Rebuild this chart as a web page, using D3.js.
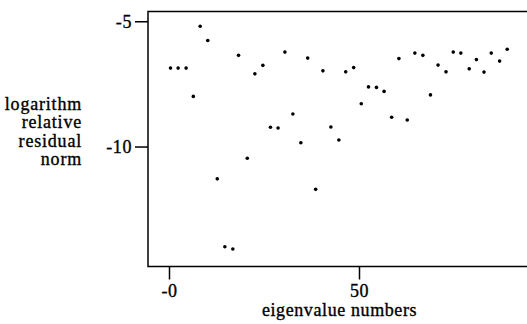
<!DOCTYPE html>
<html>
<head>
<meta charset="utf-8">
<script src="https://cdn.jsdelivr.net/npm/d3@7"></script>
<style>
  html, body { margin: 0; padding: 0; background: #fff; }
  svg { display: block; }
  svg text { font-family: 'Liberation Serif', 'Tinos', 'DejaVu Serif', serif !important; fill: #000; stroke: #000; stroke-width: 0.35px; }
</style>
</head>
<body>
<svg id="chart" width="527" height="324"></svg>
<script>
// Eigenvalue numbers (x) and logarithm of relative residual norm (y)
const eigenvalueNumbers = [
  0.4, 2.4, 4.5, 6.4, 8.2, 10.2, 12.7, 14.7, 16.8, 18.3,
  20.6, 22.6, 24.7, 26.7, 28.7, 30.5, 32.6, 34.7, 36.5, 38.6,
  40.5, 42.6, 44.7, 46.5, 48.6, 50.6, 52.5, 54.6, 56.6, 58.6,
  60.5, 62.7, 64.7, 66.8, 68.8, 70.8, 72.9, 74.8, 76.8, 79.0,
  80.9, 82.9, 84.8, 87.0, 89.0
];
const logResidualNorm = [
  -6.87, -6.87, -6.87, -8.00, -5.20, -5.77, -11.29, -14.00, -14.09, -6.36,
  -10.47, -7.10, -6.76, -9.23, -9.26, -6.23, -8.70, -9.85, -6.47, -11.71,
  -6.98, -9.22, -9.74, -7.02, -6.85, -8.29, -7.62, -7.64, -7.80, -8.83,
  -6.49, -8.94, -6.27, -6.36, -7.94, -6.75, -7.02, -6.23, -6.27, -6.90,
  -6.53, -7.03, -6.27, -6.59, -6.12
];
const xTickValues = [0, 50];
const xTickLabels = ["-0", "50"];
const yTickValues = [-5, -10];
const yTickLabels = ["-5", "-10"];
const yTitleLines = ["logarithm", "relative", "residual", "norm"];
const xTitle = "eigenvalue numbers";

const svg = d3.select("#chart");
const W = 527;
const plotLeft = 148, plotTop = 11.5, plotBottom = 266.5;

const x = d3.scaleLinear().domain([0, 50]).range([169, 359]);
const y = d3.scaleLinear().domain([-14.79, -4.61]).range([plotBottom, plotTop]);

const fontSize = 18;

// frame: left axis line, top and bottom lines (no right border visible)
svg.append("path")
  .attr("d", `M${W},${plotTop}H${plotLeft}V${plotBottom}H${W}`)
  .attr("fill", "none").attr("stroke", "#000").attr("stroke-width", 1.5);

// y axis ticks
const yAxis = d3.axisLeft(y)
  .tickValues(yTickValues)
  .tickSize(13)
  .tickPadding(3)
  .tickFormat((d, i) => yTickLabels[i]);
const gy = svg.append("g").attr("transform", `translate(${plotLeft},0)`).call(yAxis);
gy.attr("font-family", null);
gy.select(".domain").remove();
gy.selectAll(".tick line").attr("stroke", "#000").attr("stroke-width", 1.5);
gy.selectAll(".tick text").attr("font-size", fontSize).attr("fill", "#000")
  .attr("letter-spacing", 0.6);

// x axis ticks
const xAxis = d3.axisBottom(x)
  .tickValues(xTickValues)
  .tickSize(13)
  .tickPadding(5)
  .tickFormat((d, i) => xTickLabels[i]);
const gx = svg.append("g").attr("transform", `translate(0,${plotBottom})`).call(xAxis);
gx.attr("font-family", null);
gx.select(".domain").remove();
gx.selectAll(".tick line").attr("stroke", "#000").attr("stroke-width", 1.5);
gx.selectAll(".tick text").attr("font-size", fontSize).attr("fill", "#000")
  .attr("letter-spacing", 0.6);

// points
svg.append("g").selectAll("circle")
  .data(eigenvalueNumbers.map((d, i) => [d, logResidualNorm[i]]))
  .join("circle")
  .attr("cx", d => x(d[0]))
  .attr("cy", d => y(d[1]))
  .attr("r", 1.8)
  .attr("fill", "#000");

// y title
svg.append("text")
  .attr("text-anchor", "end")
  .attr("font-size", fontSize)
  .attr("letter-spacing", 0.8)
  .selectAll("tspan")
  .data(yTitleLines)
  .join("tspan")
  .attr("x", 82)
  .attr("y", (d, i) => 110 + i * 18.4)
  .text(d => d);

// x title
svg.append("text")
  .attr("x", 339.5)
  .attr("y", 316)
  .attr("text-anchor", "middle")
  .attr("font-size", fontSize)
  .attr("letter-spacing", 0.6)
  .text(xTitle);
</script>
</body>
</html>
